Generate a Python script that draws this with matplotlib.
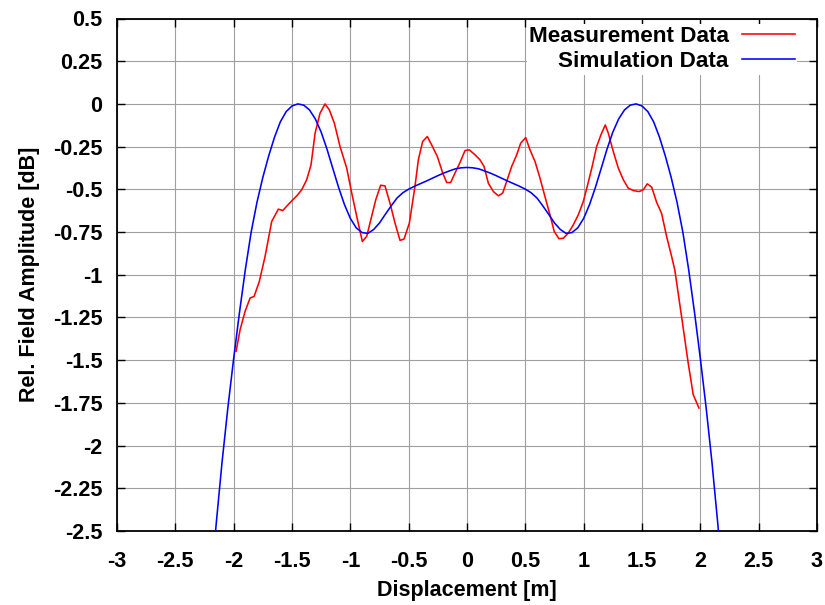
import matplotlib
matplotlib.use("Agg")
import matplotlib.pyplot as plt
from matplotlib.ticker import FuncFormatter, MultipleLocator

# Measurement data (red)
meas_x = [-1.979, -1.945, -1.902, -1.859, -1.825, -1.78, -1.731, -1.674, -1.617, -1.579,
          -1.52, -1.459, -1.417, -1.374, -1.337, -1.302, -1.26, -1.217, -1.18, -1.137,
          -1.088, -1.031, -0.988, -0.945, -0.897, -0.86, -0.782, -0.74, -0.703, -0.66,
          -0.617, -0.574, -0.54, -0.494, -0.446, -0.417, -0.38, -0.34, -0.303, -0.254,
          -0.208, -0.174, -0.14, -0.103, -0.06, -0.017, 0.02, 0.069, 0.111, 0.146,
          0.183, 0.226, 0.269, 0.306, 0.34, 0.383, 0.426, 0.46, 0.503, 0.54,
          0.583, 0.626, 0.668, 0.711, 0.748, 0.788, 0.826, 0.868, 0.911, 0.954,
          0.997, 1.034, 1.074, 1.111, 1.148, 1.185, 1.211, 1.254, 1.297, 1.34,
          1.382, 1.425, 1.474, 1.511, 1.545, 1.583, 1.626, 1.668, 1.711, 1.754,
          1.782, 1.839, 1.896, 1.939, 1.988]
meas_y = [-1.448, -1.322, -1.214, -1.136, -1.127, -1.039, -0.893, -0.688, -0.616, -0.624,
          -0.58, -0.538, -0.503, -0.444, -0.357, -0.171, -0.055, 0.0, -0.035, -0.113,
          -0.25, -0.376, -0.522, -0.659, -0.805, -0.776, -0.561, -0.476, -0.48, -0.581,
          -0.698, -0.799, -0.791, -0.698, -0.483, -0.327, -0.22, -0.191, -0.24, -0.308,
          -0.405, -0.46, -0.46, -0.405, -0.343, -0.273, -0.269, -0.298, -0.327, -0.366,
          -0.464, -0.513, -0.538, -0.522, -0.454, -0.366, -0.298, -0.23, -0.197, -0.269,
          -0.337, -0.435, -0.542, -0.649, -0.747, -0.789, -0.786, -0.756, -0.708, -0.649,
          -0.571, -0.474, -0.363, -0.25, -0.181, -0.123, -0.171, -0.279, -0.376, -0.444,
          -0.493, -0.507, -0.513, -0.503, -0.468, -0.487, -0.577, -0.641, -0.776, -0.893,
          -0.975, -1.244, -1.517, -1.702, -1.78]

# Simulation data (blue)
sim_x = [-2.20, -2.15, -2.10, -2.05, -2.00, -1.95, -1.90, -1.85, -1.80, -1.75,
         -1.70, -1.65, -1.60, -1.55, -1.50, -1.45, -1.40, -1.35, -1.30, -1.25,
         -1.20, -1.15, -1.10, -1.05, -1.00, -0.95, -0.90, -0.85, -0.80, -0.75,
         -0.70, -0.65, -0.60, -0.55, -0.50, -0.45, -0.40, -0.35, -0.30, -0.25,
         -0.20, -0.15, -0.10, -0.05, 0.00, 0.05, 0.10, 0.15, 0.20, 0.25,
         0.30, 0.35, 0.40, 0.45, 0.50, 0.55, 0.60, 0.65, 0.70, 0.75,
         0.80, 0.85, 0.90, 0.95, 1.00, 1.05, 1.10, 1.15, 1.20, 1.25,
         1.30, 1.35, 1.40, 1.45, 1.50, 1.55, 1.60, 1.65, 1.70, 1.75,
         1.80, 1.85, 1.90, 1.95, 2.00, 2.05, 2.10, 2.15, 2.20]
sim_y = [-2.850, -2.460, -2.100, -1.780, -1.490, -1.220, -0.970, -0.750, -0.575, -0.430,
         -0.305, -0.195, -0.105, -0.045, -0.012, 0.000, -0.007, -0.035, -0.088, -0.165,
         -0.265, -0.378, -0.490, -0.590, -0.670, -0.725, -0.753, -0.758, -0.735, -0.697,
         -0.646, -0.597, -0.551, -0.520, -0.499, -0.482, -0.467, -0.452, -0.436, -0.420,
         -0.405, -0.392, -0.380, -0.374, -0.372, -0.374, -0.380, -0.392, -0.405, -0.420,
         -0.436, -0.452, -0.467, -0.482, -0.499, -0.520, -0.551, -0.597, -0.646, -0.697,
         -0.735, -0.758, -0.753, -0.725, -0.670, -0.590, -0.490, -0.378, -0.265, -0.165,
         -0.088, -0.035, -0.007, 0.000, -0.012, -0.045, -0.105, -0.195, -0.305, -0.430,
         -0.575, -0.750, -0.970, -1.220, -1.490, -1.780, -2.100, -2.460, -2.850]

plt.rcParams['font.family'] = ['Liberation Sans', 'DejaVu Sans']
plt.rcParams['font.weight'] = 'bold'
plt.rcParams['axes.unicode_minus'] = False

W, H = 825, 605
fig = plt.figure(figsize=(W / 100, H / 100), dpi=100)
L, R, T, B = 117, 817, 18.5, 531
ax = fig.add_axes([L / W, 1 - B / H, (R - L) / W, (B - T) / H])

ax.plot(meas_x, meas_y, color='#ff0000', lw=1.15, label='Measurement Data', zorder=3)
ax.plot(sim_x, sim_y, color='#0000ff', lw=1.15, label='Simulation Data', zorder=3)

ax.set_xlim(-3, 3)
ax.set_ylim(-2.5, 0.5)
ax.xaxis.set_major_locator(MultipleLocator(0.5))
ax.yaxis.set_major_locator(MultipleLocator(0.25))
fmt = FuncFormatter(lambda v, p: '%g' % round(v, 3))
ax.xaxis.set_major_formatter(fmt)
ax.yaxis.set_major_formatter(fmt)

ax.grid(True, color='#a0a0a0', lw=0.8, zorder=0)
ax.set_axisbelow(True)
for s in ax.spines.values():
    s.set_linewidth(1.3)
ax.tick_params(direction='in', top=True, right=True, length=6, width=1,
               labelsize=15.6)
ax.tick_params(axis='y', pad=10.5)
ax.tick_params(axis='x', pad=14.5)
for lab in ax.get_xticklabels() + ax.get_yticklabels():
    lab.set_fontweight('bold')

ax.set_xlabel('Displacement [m]', fontsize=15.5, fontweight='bold', labelpad=6)
ax.set_ylabel('Rel. Field Amplitude [dB]', fontsize=15.5, fontweight='bold', labelpad=9.5)

leg = ax.legend(loc='upper right', bbox_to_anchor=(797 / W, 1 - 23.5 / H),
                bbox_transform=fig.transFigure, markerfirst=False, frameon=True,
                fancybox=False, edgecolor='none', facecolor='white', framealpha=1,
                prop={'size': 16.2, 'weight': 'bold'}, handlelength=2.35,
                handletextpad=0.58, labelspacing=0.2, borderpad=0.1,
                borderaxespad=0)
for t in leg.get_texts():
    t.set_ha('right')
leg.set_zorder(5)

fig.savefig('out.png', dpi=100)
